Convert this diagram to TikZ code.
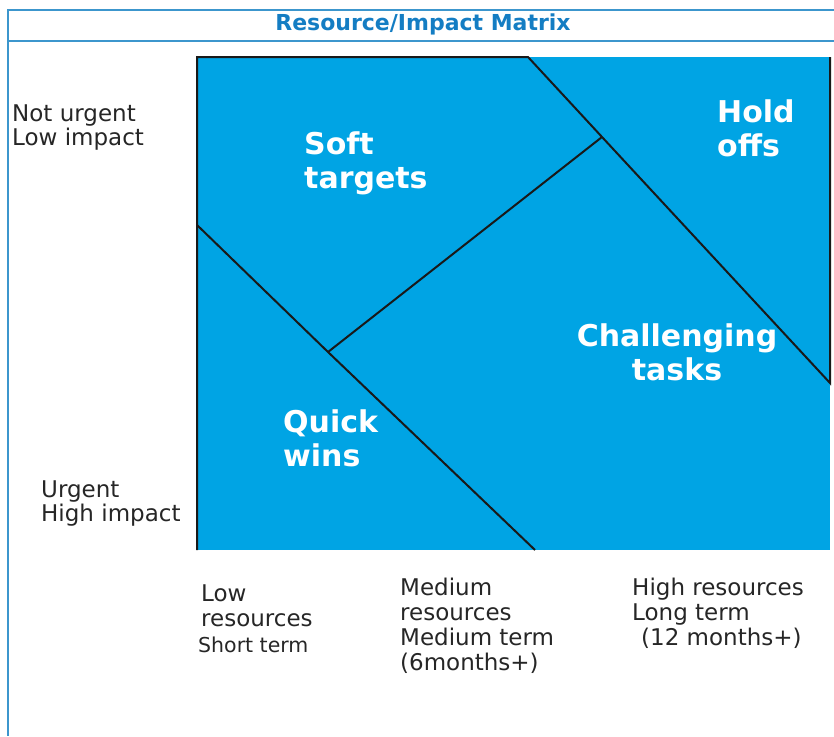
\documentclass[tikz,border=0pt]{standalone}
\usepackage{fontspec}
\setmainfont{DejaVu Sans}
\definecolor{matblue}{RGB}{0,164,228}
\definecolor{framblue}{RGB}{60,150,205}
\definecolor{titblue}{RGB}{20,125,195}

\begin{document}
\begin{tikzpicture}[x=1pt,y=-1pt,
		zone/.style={white, font=\bfseries\fontsize{30}{34}\selectfont, inner sep=0, align=left, anchor=base west},
		axis/.style={black!85, font=\fontsize{23}{24}\selectfont, inner sep=0, align=left, anchor=base west},
		edge/.style={black!90, line width=2pt}]
	\useasboundingbox (0,0) rectangle (834,736);

	% frame and title
	\draw [framblue, line width=1.6pt] (834,10) -- (8,10) -- (8,736);
	\draw [framblue, line width=1.6pt] (8,41) -- (834,41);
	\node [titblue, font=\bfseries\fontsize{22}{24}\selectfont, inner sep=0, anchor=base] (title) at (423,30) {Resource/Impact Matrix};

	% matrix
	\coordinate (tl) at (197,57);
	\coordinate (bl) at (197,550);
	\coordinate (tm) at (528,57);
	\coordinate (tr) at (830,57);
	\coordinate (rm) at (830,383);
	\coordinate (br) at (830,550);
	\coordinate (mid) at (602,137);
	\coordinate (lm) at (197,225);
	\coordinate (knee) at (328,352);
	\coordinate (bm) at (535,550);

	\fill [matblue] (tl) rectangle (br);
	\draw [edge] (bl) -- (tl) -- (tm) -- (mid) -- (rm) -- (tr);
	\draw [edge] (mid) -- (knee);
	\draw [edge] (lm) -- (knee) -- (bm);

	% zone labels (placed at the baseline of the last line)
	\node [zone] (soft) at (304,188) {Soft\\targets};
	\node [zone] (hold) at (717,156) {Hold\\offs};
	\node [zone, align=center, anchor=base] (chall) at (677,380) {Challenging\\tasks};
	\node [zone] (quick) at (283,466) {Quick\\wins};

	% axis labels
	\node [axis] (low) at (12,145) {Not urgent\\Low impact};
	\node [axis] (high) at (41,521) {Urgent\\High impact};
	\node [axis, font=\fontsize{23}{25}\selectfont] (lowres) at (201,626) {Low\\resources};
	\node [axis, font=\fontsize{20.5}{24}\selectfont] (short) at (198,652) {Short term};
	\node [axis, font=\fontsize{23}{24.7}\selectfont] (medres) at (400,670) {Medium\\resources\\Medium term\\(6months+)};
	\node [axis, font=\fontsize{23}{24.5}\selectfont] (highres) at (632,620) {High resources\\Long term};
	\node [axis] (twelve) at (641,645) {(12 months+)};
\end{tikzpicture}
\end{document}
